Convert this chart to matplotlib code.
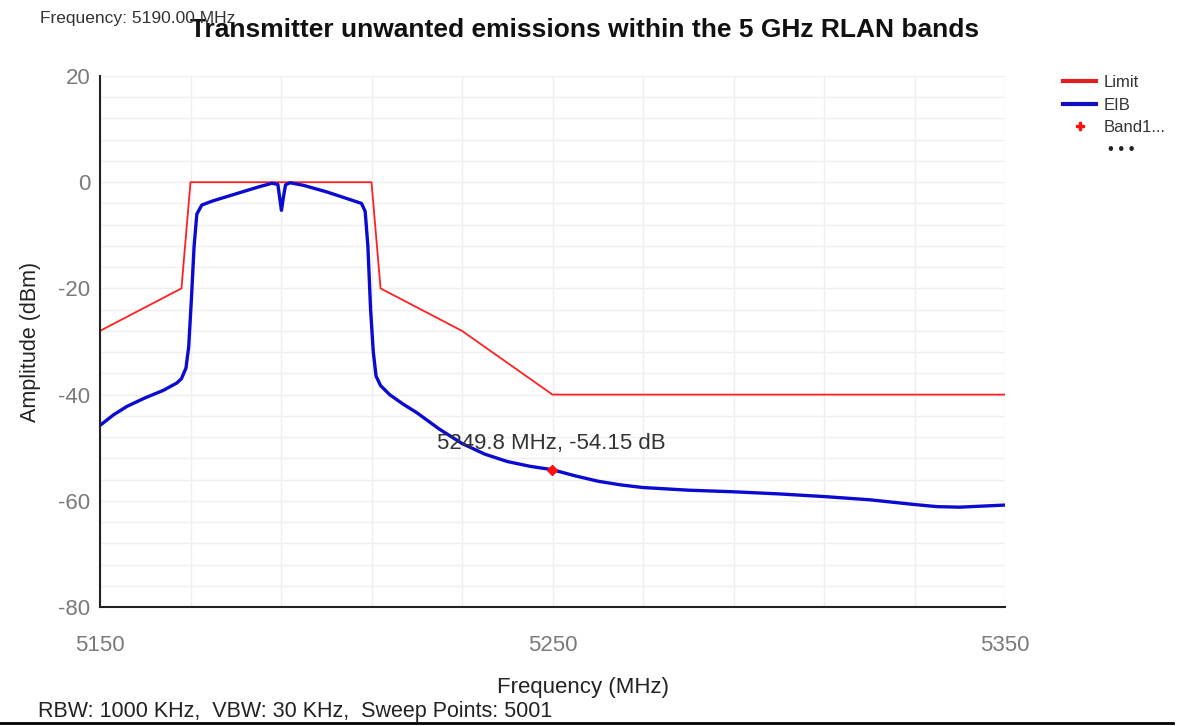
import numpy as np
import matplotlib
matplotlib.use("Agg")
import matplotlib.pyplot as plt
from matplotlib.lines import Line2D

plt.rcParams['font.family'] = ['Liberation Sans', 'DejaVu Sans']
plt.rcParams['axes.unicode_minus'] = False

# Limit mask (MHz, dBm)
limit_freq = [5150, 5168, 5170, 5210, 5212, 5230, 5250, 5350]
limit_db = [-28, -20, 0, 0, -20, -28, -40, -40]

# Measured EIB trace (MHz, dBm)
eib_freq = [5150, 5153, 5156, 5160, 5164, 5167, 5168, 5169, 5169.6, 5170.2, 5170.8, 5171.4,
            5172.5, 5175, 5180, 5185, 5188, 5189.3, 5189.8, 5190.1, 5190.5, 5191, 5192,
            5195, 5200, 5205, 5207.8, 5208.6, 5209.2, 5209.8, 5210.4, 5211, 5212, 5214,
            5217, 5220, 5225, 5230, 5235, 5240, 5245, 5250, 5255, 5260, 5265, 5270, 5280,
            5290, 5300, 5310, 5320, 5330, 5335, 5340, 5345, 5350]
eib_db = [-45.8, -43.8, -42.2, -40.6, -39.2, -37.8, -37.0, -35.0, -31.0, -22.0, -12.0, -6.0,
          -4.3, -3.5, -2.2, -0.9, -0.2, -0.4, -3.5, -5.3, -3.0, -0.5, -0.1,
          -0.6, -1.8, -3.2, -4.0, -5.5, -12.0, -24.0, -32.0, -36.5, -38.3, -40.0,
          -41.8, -43.4, -46.5, -49.2, -51.2, -52.6, -53.5, -54.15, -55.3, -56.3, -57.0, -57.5, -58.0,
          -58.3, -58.7, -59.2, -59.8, -60.7, -61.1, -61.2, -61.0, -60.8]

marker_freq = 5249.8
marker_db = -54.15

x_ticks = [5150, 5250, 5350]
y_ticks = [20, 0, -20, -40, -60, -80]

fig = plt.figure(figsize=(11.79, 7.26), dpi=100)
ax = fig.add_axes([100 / 1179, 1 - 607 / 726, 905 / 1179, 531 / 726])

ax.plot(limit_freq, limit_db, color='#ff2020', lw=1.3, label='Limit')
ax.plot(eib_freq, eib_db, color='#0a0ad0', lw=2.4, label='EIB')
ax.plot([marker_freq], [marker_db], marker='D', color='#ff1010', ms=5, ls='none')
ax.annotate(f"{marker_freq} MHz, {marker_db} dB", (marker_freq, marker_db),
            xytext=(0, 11), textcoords='offset points', ha='center', va='bottom',
            fontsize=16, color='#333333')

ax.set_xlim(5150, 5350)
ax.set_ylim(-80, 20)
ax.set_xticks(x_ticks)
ax.set_yticks(y_ticks)
ax.set_xticks(np.arange(5150, 5351, 20), minor=True)
ax.set_yticks(np.arange(-80, 21, 4), minor=True)
ax.grid(True, which='minor', color='#efefef', lw=1)
ax.grid(True, which='major', color='#efefef', lw=1)
ax.set_axisbelow(True)
ax.tick_params(which='both', length=0)
ax.tick_params(axis='x', labelsize=16, labelcolor='#7a7a7a', pad=20)
ax.tick_params(axis='y', labelsize=16, labelcolor='#7a7a7a', pad=7)
for s in ['top', 'right']:
    ax.spines[s].set_visible(False)
for s in ['left', 'bottom']:
    ax.spines[s].set_color('#222222')
    ax.spines[s].set_linewidth(1.5)

ax.set_ylabel('Amplitude (dBm)', fontsize=15.5, color='#222222', labelpad=12)
fig.text(583 / 1179, 1 - 688 / 726, 'Frequency (MHz)', ha='center', va='center',
         fontsize=16, color='#222222')

fig.text(585 / 1179, 1 - 30 / 726, 'Transmitter unwanted emissions within the 5 GHz RLAN bands',
         ha='center', va='center', fontsize=19, fontweight='bold', color='#111111')
fig.text(40 / 1179, 1 - 18 / 726, 'Frequency: 5190.00 MHz', ha='left', va='center',
         fontsize=12.5, color='#333333')
fig.text(38 / 1179, 1 - 712 / 726, 'RBW: 1000 KHz,  VBW: 30 KHz,  Sweep Points: 5001',
         ha='left', va='center', fontsize=15.5, color='#222222')
fig.add_artist(Line2D([0, 0.995], [1 - 723 / 726] * 2, color='black', lw=2))

handles = [Line2D([], [], color='#e02020', lw=3),
           Line2D([], [], color='#1010c0', lw=3),
           Line2D([], [], color='#ff1010', marker='P', ms=6, ls='none')]
leg = fig.legend(handles, ['Limit', 'EIB', 'Band1...'], loc='upper left',
                 bbox_to_anchor=(1048 / 1179, 1 - 60 / 726), frameon=False,
                 fontsize=12, handlelength=2.0, labelspacing=0.45, handletextpad=0.45)
for t in leg.get_texts():
    t.set_color('#333333')
fig.text(1121 / 1179, 1 - 149 / 726, '\u2022 \u2022 \u2022', ha='center', va='center',
         fontsize=12, color='#222222')

fig.savefig('out.png', dpi=100)
